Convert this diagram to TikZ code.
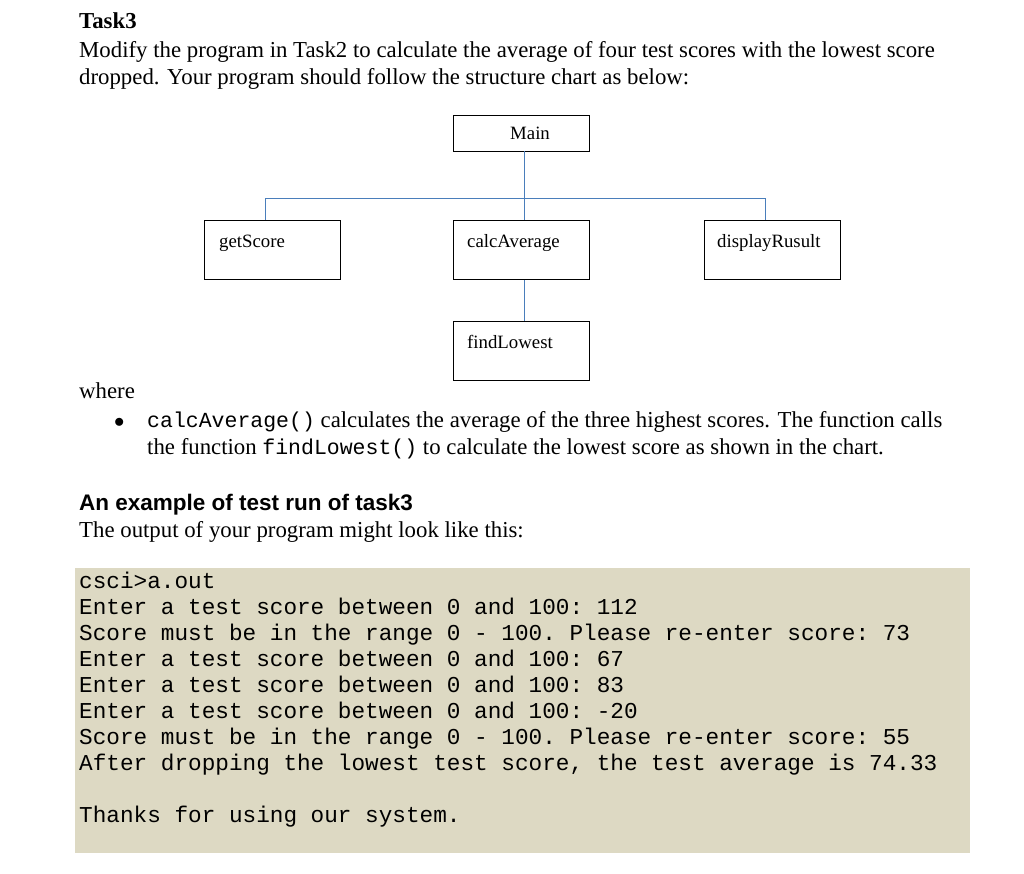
\documentclass[tikz,border=0pt]{standalone}
\usepackage{fontspec}
\setmainfont{Liberation Serif}
\setsansfont{Liberation Sans}
\setmonofont{Liberation Mono}
\usetikzlibrary{positioning}
\definecolor{termbg}{HTML}{DDD9C3}
\definecolor{linkblue}{HTML}{4A7EBB}
\tikzstyle{txt} = [anchor=base west, inner sep=0pt, font=\fontsize{22.8}{27}\selectfont]
\tikzstyle{lbl} = [anchor=base west, inner sep=0pt, font=\fontsize{18.8}{22}\selectfont]
\tikzstyle{code} = [anchor=base west, inner sep=0pt, font=\ttfamily\fontsize{22.7}{26}\selectfont]
\tikzstyle{block} = [rectangle, draw, thick, minimum width=136pt, minimum height=59pt, inner sep=0pt]
\tikzstyle{line} = [draw, linkblue, thick]

\begin{document}
\begin{tikzpicture}[x=1pt,y=-1pt]
    \useasboundingbox (0,0) rectangle (1024,873);
    % Heading and task text
    \node [txt, font=\bfseries\fontsize{22.8}{27}\selectfont] (title) at (79,28) {Task3};
    \node [txt] (line1) at (79,57) {Modify the program in Task2 to calculate the average of four test scores with the lowest score};
    \node [txt] (line2) at (79,84) {dropped. Your program should follow the structure chart as below:};
    % Place boxes
    \node [block, minimum height=36pt] (main) at (521,133) {};
    \node [block] (get) at (272,250) {};
    \node [block] (calc) at (521,250) {};
    \node [block] (disp) at (772,250) {};
    \node [block] (low) at (521,351) {};
    \node [lbl] at (510,139) {Main};
    \node [lbl] at (219,247) {getScore};
    \node [lbl] at (467,247) {calcAverage};
    \node [lbl] at (717,247) {displayRusult};
    \node [lbl] at (467,348) {findLowest};
    % Draw edges
    \coordinate (hub) at (524,198);
    \path [line] (main.south -| hub) -- (hub);
    \path [line] (265,198) -- (765,198);
    \path [line] (265,198) -- (get.north -| 265,0);
    \path [line] (765,198) -- (disp.north -| 765,0);
    \path [line] (hub) -- (calc.north -| hub);
    \path [line] (calc.south -| hub) -- (low.north -| hub);
    % Where text
    \node [txt] at (79,398) {where};
    \node [txt] at (114,427) {$\bullet$};
    \node [txt] at (147,427) {{\ttfamily\fontsize{21.5}{26}\selectfont calcAverage()} calculates the average of the three highest scores. The function calls};
    \node [txt] at (147,454) {the function {\ttfamily\fontsize{21.5}{26}\selectfont findLowest()} to calculate the lowest score as shown in the chart.};
    \node [txt, font=\sffamily\bfseries\fontsize{22.5}{27}\selectfont] at (79,510) {An example of test run of task3};
    \node [txt] at (79,537) {The output of your program might look like this:};
    % Terminal output
    \fill [termbg] (75,568) rectangle (970,853);
    \node [code] at (79,588) {csci>a.out};
    \node [code] at (79,614) {Enter a test score between 0 and 100: 112};
    \node [code] at (79,640) {Score must be in the range 0 - 100. Please re-enter score: 73};
    \node [code] at (79,666) {Enter a test score between 0 and 100: 67};
    \node [code] at (79,692) {Enter a test score between 0 and 100: 83};
    \node [code] at (79,718) {Enter a test score between 0 and 100: -20};
    \node [code] at (79,744) {Score must be in the range 0 - 100. Please re-enter score: 55};
    \node [code] at (79,770) {After dropping the lowest test score, the test average is 74.33};
    \node [code] at (79,822) {Thanks for using our system.};
\end{tikzpicture}
\end{document}
